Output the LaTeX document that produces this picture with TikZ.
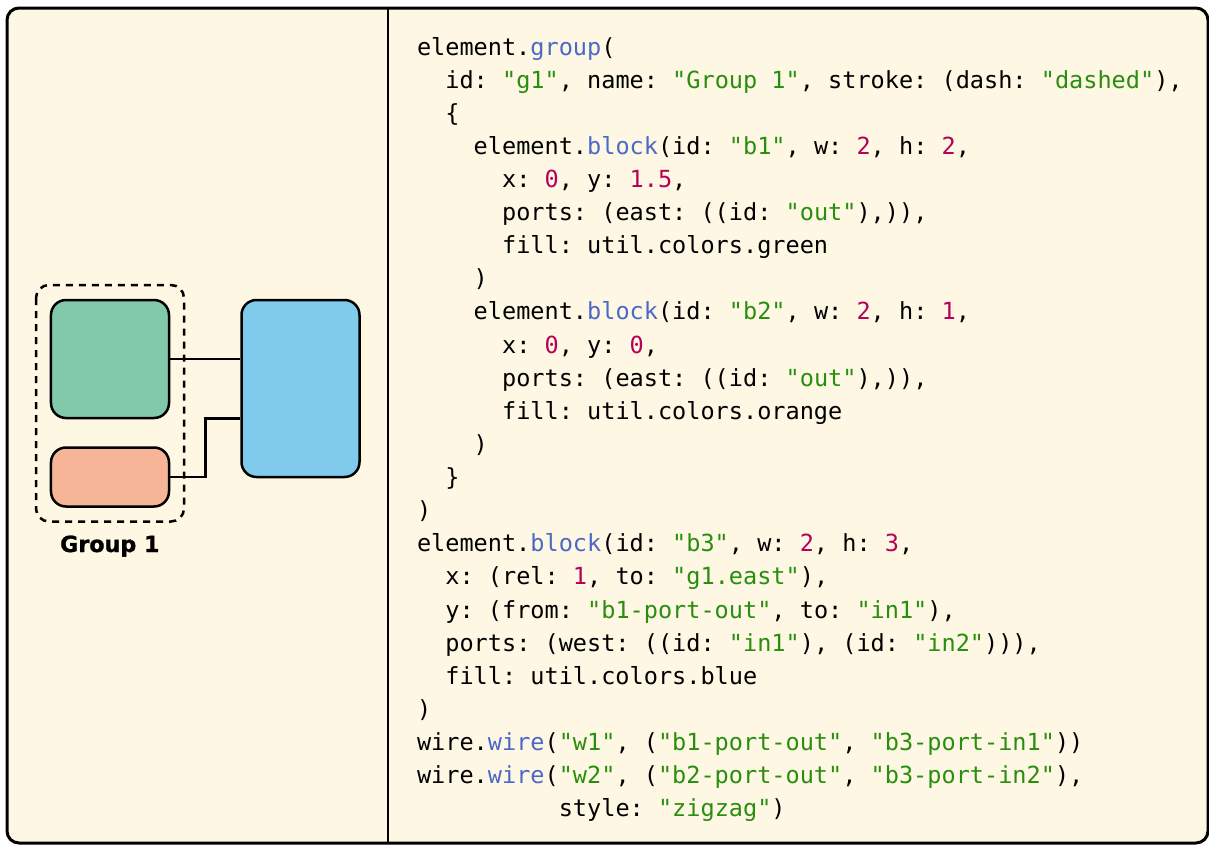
\documentclass[tikz,border=0pt]{standalone}
\usepackage{fontspec}
\setmonofont{DejaVu Sans Mono}
\newfontfamily\grplabelfont{DejaVu Sans}[BoldFeatures={FakeBold=1.2}]
\usetikzlibrary{calc}
\definecolor{bgc}{HTML}{FDF7E4}
\definecolor{fnc}{HTML}{4B69C6}
\definecolor{strc}{HTML}{298E0D}
\definecolor{numc}{HTML}{B60157}
\definecolor{bgreen}{HTML}{82C9AB}
\definecolor{borange}{HTML}{F5B596}
\definecolor{bblue}{HTML}{80CAEB}
\newcommand\kfn[1]{\textcolor{fnc}{#1}}
\newcommand\kstr[1]{\textcolor{strc}{#1}}
\newcommand\knum[1]{\textcolor{numc}{#1}}
\newcommand\codeln[3]{\node[codetext] (l#1) at ({417+14.18*#2},{55+33.12*#1}) {#3};}
\begin{document}
\begin{tikzpicture}[x=1bp,y=-1bp,
  codetext/.style={anchor=base west, inner sep=0pt, outer sep=0pt,
    font=\ttfamily\fontsize{23.55bp}{28bp}\selectfont\frenchspacing},
  blockbox/.style={draw=black, line width=2.5bp, rounded corners=15bp,
    minimum width=118bp, inner sep=0pt},
  wireline/.style={draw=black, line width=2.5bp},
  groupbox/.style={draw=black, line width=2.5bp, dash pattern=on 7bp off 6bp,
    rounded corners=13bp}]
\useasboundingbox (0,0) rectangle (1209,846);
\fill[white] (0,0) rectangle (1209,846);
\draw[line width=3bp, fill=bgc, rounded corners=12bp] (7,8) rectangle (1208,843);
\draw[line width=2.5bp] (388,8) -- (388,843);

% blocks
\node[blockbox, fill=bgreen, minimum height=118bp] (b1) at (110,359) {};
\node[blockbox, fill=borange, minimum height=59bp] (b2) at (110,477) {};
\node[blockbox, fill=bblue, minimum height=177bp] (b3) at (300.5,388.5) {};
\coordinate (in1) at ($(b3.north west)!1/3!(b3.south west)$);
\coordinate (in2) at ($(b3.north west)!2/3!(b3.south west)$);
\coordinate (mx) at ($(b2.east)!0.5!(in2)$);
\draw[groupbox] (36,285) rectangle (184,521.5);
\node[anchor=base, inner sep=0pt, font=\grplabelfont\bfseries\fontsize{22.2bp}{26bp}\selectfont] (glabel) at (109.8,552) {Group 1};
\draw[wireline] (b1.east) -- (b1.east -| in1);
\draw[wireline] (b2.east) -- (b2.east -| mx) -- (in2 -| mx) -- (in2);

% code
\codeln{0}{0}{element.\kfn{group}(}
\codeln{1}{2}{id: \kstr{"g1"}, name: \kstr{"Group 1"}, stroke: (dash: \kstr{"dashed"}),}
\codeln{2}{2}{\{}
\codeln{3}{4}{element.\kfn{block}(id: \kstr{"b1"}, w: \knum{2}, h: \knum{2},}
\codeln{4}{6}{x: \knum{0}, y: \knum{1.5},}
\codeln{5}{6}{ports: (east: ((id: \kstr{"out"}),)),}
\codeln{6}{6}{fill: util.colors.green}
\codeln{7}{4}{)}
\codeln{8}{4}{element.\kfn{block}(id: \kstr{"b2"}, w: \knum{2}, h: \knum{1},}
\codeln{9}{6}{x: \knum{0}, y: \knum{0},}
\codeln{10}{6}{ports: (east: ((id: \kstr{"out"}),)),}
\codeln{11}{6}{fill: util.colors.orange}
\codeln{12}{4}{)}
\codeln{13}{2}{\}}
\codeln{14}{0}{)}
\codeln{15}{0}{element.\kfn{block}(id: \kstr{"b3"}, w: \knum{2}, h: \knum{3},}
\codeln{16}{2}{x: (rel: \knum{1}, to: \kstr{"g1.east"}),}
\codeln{17}{2}{y: (from: \kstr{"b1-port-out"}, to: \kstr{"in1"}),}
\codeln{18}{2}{ports: (west: ((id: \kstr{"in1"}), (id: \kstr{"in2"}))),}
\codeln{19}{2}{fill: util.colors.blue}
\codeln{20}{0}{)}
\codeln{21}{0}{wire.\kfn{wire}(\kstr{"w1"}, (\kstr{"b1-port-out"}, \kstr{"b3-port-in1"}))}
\codeln{22}{0}{wire.\kfn{wire}(\kstr{"w2"}, (\kstr{"b2-port-out"}, \kstr{"b3-port-in2"}),}
\codeln{23}{10}{style: \kstr{"zigzag"})}
\end{tikzpicture}
\end{document}
